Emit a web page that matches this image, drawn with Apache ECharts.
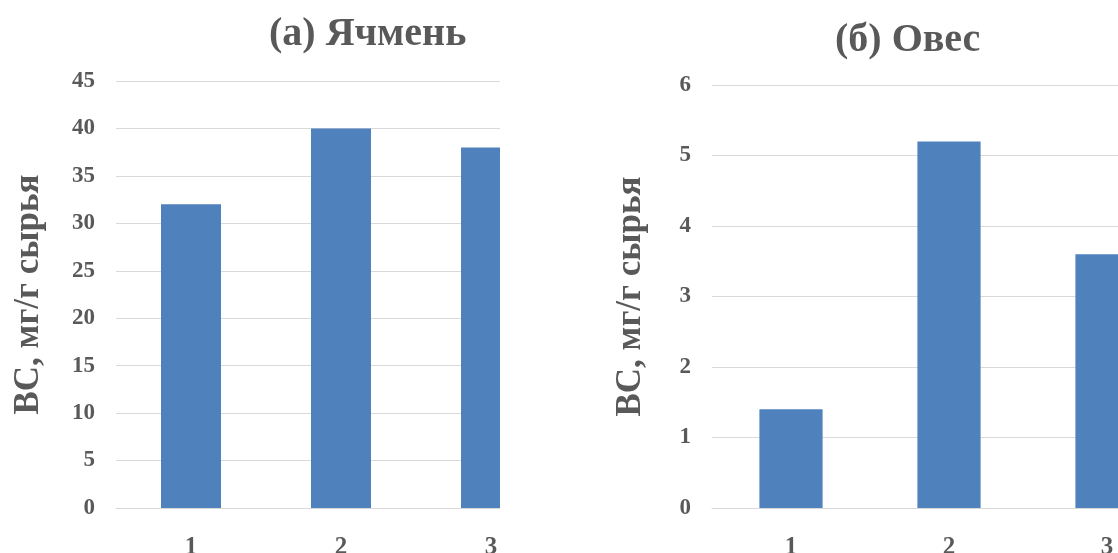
<html>
<head>
<meta charset="utf-8">
<title>ВС, мг/г сырья</title>
<script src="https://cdn.jsdelivr.net/npm/echarts@6/dist/echarts.min.js"></script>
<style>
body { margin: 0; background: #fff; }
.box { position: absolute; top: 0; height: 553px; overflow: hidden; }
</style>
</head>
<body>

<div class="box" style="left:0; width:500px;"><div id="chartA" style="width:600px;height:553px"></div></div>
<div class="box" style="left:500px; width:618px;"><div id="chartB" style="width:700px;height:553px"></div></div>

<script>
var categories = ['1', '2', '3'];
var valuesA = [32, 40, 38];      // (а) Ячмень
var valuesB = [1.4, 5.2, 3.6];   // (б) Овес
var ticksA = { min: 0, max: 45, interval: 5 };
var ticksB = { min: 0, max: 6, interval: 1 };

var FONT = 'Liberation Serif, Times New Roman, serif';
var GREY = '#595959';

function makeOption(title, titleLeft, titleTop, values, ticks, gridLeft, gridTop, gridRight, nameGap) {
	return {
		animation: false,
		title: {
			text: title,
			left: titleLeft,
			top: titleTop,
			textStyle: { fontFamily: FONT, fontSize: 40, fontWeight: 'bold', color: GREY }
		},
		grid: { left: gridLeft, top: gridTop, right: gridRight, bottom: 553 - 508, outerBoundsMode: 'none', containLabel: false },
		xAxis: {
			type: 'category',
			data: categories,
			axisLine: { lineStyle: { color: '#d9d9d9' } },
			axisTick: { show: false },
			axisLabel: { fontFamily: FONT, fontSize: 25, fontWeight: 'bold', color: GREY, margin: 27 }
		},
		yAxis: {
			type: 'value',
			min: ticks.min,
			max: ticks.max,
			interval: ticks.interval,
			name: 'ВС, мг/г сырья',
			nameLocation: 'middle',
			nameGap: nameGap,
			nameTextStyle: { fontFamily: FONT, fontSize: 35, fontWeight: 'bold', color: GREY },
			axisLine: { show: false },
			axisTick: { show: false },
			splitLine: { lineStyle: { color: '#d9d9d9' } },
			axisLabel: { fontFamily: FONT, fontSize: 23, fontWeight: 'bold', color: GREY, margin: 21 }
		},
		series: [{
			type: 'bar',
			data: values,
			barWidth: '40%',
			itemStyle: { color: '#4f81bd' }
		}]
	};
}

var chartA = echarts.init(document.getElementById('chartA'));
chartA.setOption(makeOption('(а) Ячмень', 264, 10, valuesA, ticksA, 116, 81, 34, 70));

var chartB = echarts.init(document.getElementById('chartB'));
chartB.setOption(makeOption('(б) Овес', 330, 16, valuesB, ticksB, 212, 85, 14, 64));
</script>

</body>
</html>
